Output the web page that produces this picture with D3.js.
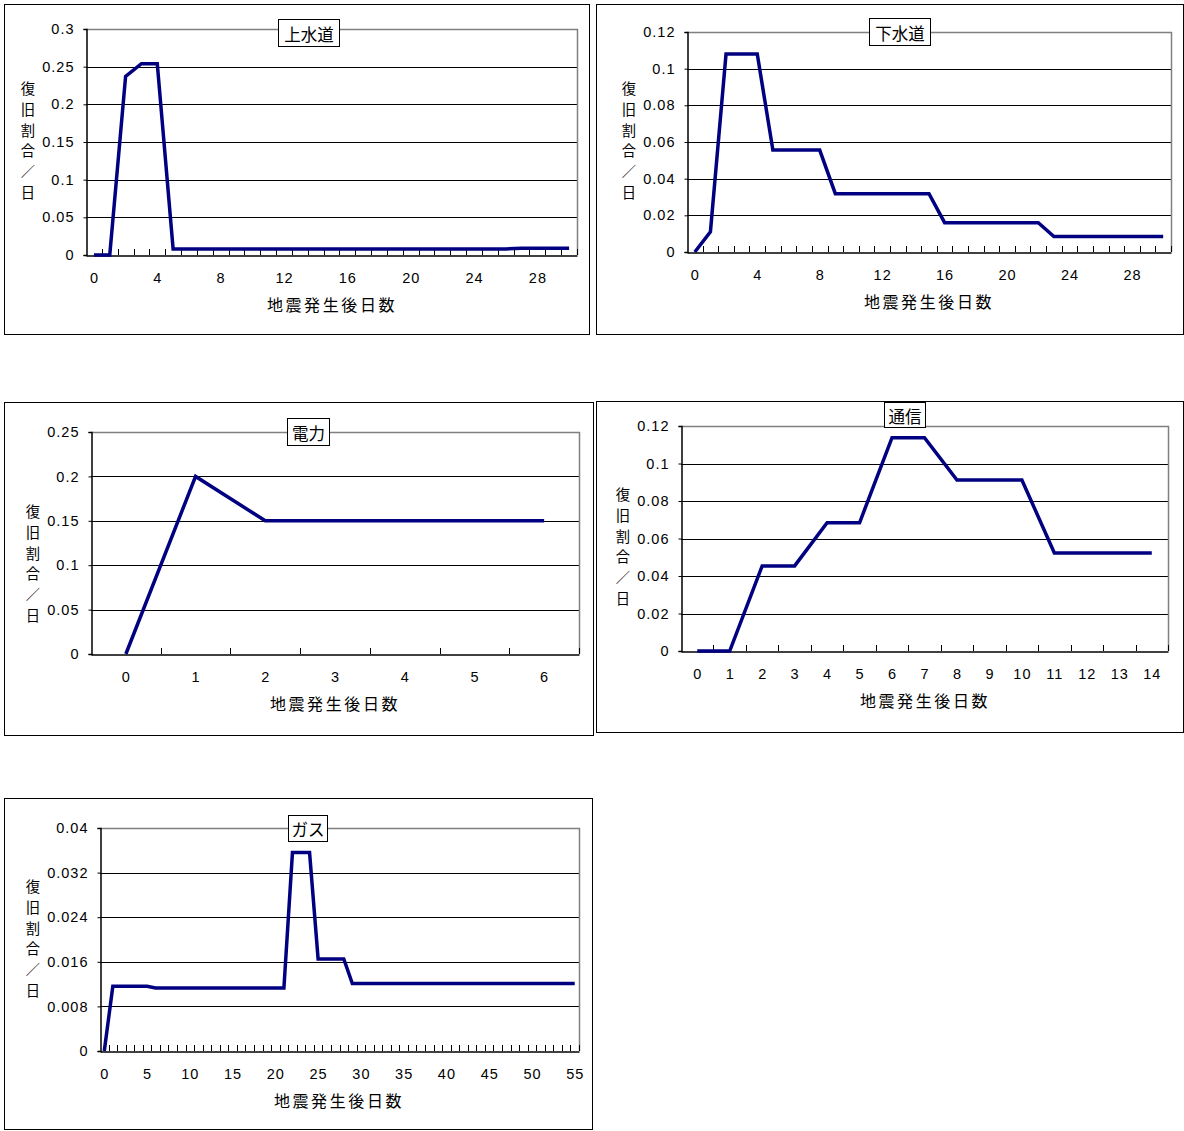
<!DOCTYPE html>
<html>
<head>
<meta charset="utf-8">
<script src="https://cdn.jsdelivr.net/npm/d3@7"></script>
<style>
  body { margin: 0; background: #fff; }
  svg { display: block; }
</style>
</head>
<body>
<div id="chart"></div>
<script>
// Recovery ratio per day, index = days after the earthquake
const josuidoValues = [0, 0, 0.237, 0.254, 0.254, 0.008, 0.008, 0.008, 0.008, 0.008,
  0.008, 0.008, 0.008, 0.008, 0.008, 0.008, 0.008, 0.008, 0.008, 0.008,
  0.008, 0.008, 0.008, 0.008, 0.008, 0.008, 0.008, 0.009, 0.009, 0.009, 0.009];
const gesuidoValues = [0, 0.011, 0.108, 0.108, 0.108, 0.0556, 0.0556, 0.0556, 0.0556, 0.0318,
  0.0318, 0.0318, 0.0318, 0.0318, 0.0318, 0.0318, 0.016, 0.016, 0.016, 0.016,
  0.016, 0.016, 0.016, 0.0084, 0.0084, 0.0084, 0.0084, 0.0084, 0.0084, 0.0084, 0.0084];
const denryokuValues = [0, 0.2, 0.15, 0.15, 0.15, 0.15, 0.15];
const tsushinValues = [0, 0, 0.0454, 0.0454, 0.0684, 0.0684, 0.1138, 0.1138, 0.0912, 0.0912,
  0.0912, 0.0523, 0.0523, 0.0523, 0.0523];
const gasValues = [0, 0.0116, 0.0116, 0.0116, 0.0116, 0.0116, 0.0113, 0.0113, 0.0113, 0.0113,
  0.0113, 0.0113, 0.0113, 0.0113, 0.0113, 0.0113, 0.0113, 0.0113, 0.0113, 0.0113,
  0.0113, 0.0113, 0.0356, 0.0356, 0.0356, 0.0165, 0.0165, 0.0165, 0.0165, 0.0121,
  0.0121, 0.0121, 0.0121, 0.0121, 0.0121, 0.0121, 0.0121, 0.0121, 0.0121, 0.0121,
  0.0121, 0.0121, 0.0121, 0.0121, 0.0121, 0.0121, 0.0121, 0.0121, 0.0121, 0.0121,
  0.0121, 0.0121, 0.0121, 0.0121, 0.0121, 0.0121];

const titles = ['上水道', '下水道', '電力', '通信', 'ガス'];
const yMaxes = [0.3, 0.12, 0.25, 0.12, 0.04];
const ySteps = [0.05, 0.02, 0.05, 0.02, 0.008];
const labelEvery = [4, 4, 1, 1, 5];

const xTitle = '地震発生後日数';
const yTitle = ['復', '旧', '割', '合', '／', '日'];

// layout of each panel (pixels)
const layouts = [
  { frame: [4, 4, 589, 334], plot: [86, 29, 577, 255], tbox: [278, 19, 339, 46], yt: [28, 89], xt: 332 },
  { frame: [596, 4, 1183, 334], plot: [687, 32, 1171, 252], tbox: [869, 18, 930, 45], yt: [629, 89], xt: 929 },
  { frame: [4, 402, 593, 735], plot: [91, 432, 579, 654], tbox: [287, 418, 329, 445], yt: [33, 512], xt: 335 },
  { frame: [596, 401, 1183, 732], plot: [681, 426, 1168, 651], tbox: [884, 402, 925, 427], yt: [623, 495], xt: 925 },
  { frame: [4, 798, 592, 1129], plot: [100, 828, 579, 1051], tbox: [288, 815, 327, 841], yt: [33, 887], xt: 339 }
];

const allValues = [josuidoValues, gesuidoValues, denryokuValues, tsushinValues, gasValues];

const numFont = 'Liberation Sans, Arial, sans-serif';
const jpFont = 'Noto Sans CJK JP, sans-serif';

const svg = d3.select('#chart')
  .append('svg')
  .attr('width', 1184)
  .attr('height', 1131);

allValues.forEach((values, i) => drawPanel(i, values));

function drawPanel(i, values) {
  const L = layouts[i];
  const [pl, pt, pr, pb] = L.plot;
  const g = svg.append('g');

  // outer frame
  g.append('rect')
    .attr('x', L.frame[0] + 0.5).attr('y', L.frame[1] + 0.5)
    .attr('width', L.frame[2] - L.frame[0]).attr('height', L.frame[3] - L.frame[1])
    .attr('fill', 'none').attr('stroke', '#000').attr('stroke-width', 1);

  const days = values.map((d, k) => k);
  const x = d3.scaleBand().domain(days).range([pl, pr]);
  const y = d3.scaleLinear().domain([0, yMaxes[i]]).range([pb, pt]);
  const yTicks = d3.range(0, yMaxes[i] + ySteps[i] / 2, ySteps[i]);

  // gridlines
  g.append('g')
    .selectAll('line')
    .data(yTicks.slice(1, -1))
    .join('line')
    .attr('x1', pl).attr('x2', pr)
    .attr('y1', d => Math.round(y(d)) + 0.5).attr('y2', d => Math.round(y(d)) + 0.5)
    .attr('stroke', '#000').attr('stroke-width', 1);

  // plot border (gray top/right)
  g.append('path')
    .attr('d', `M${pl},${pt + 0.5}H${pr + 0.5}V${pb}`)
    .attr('fill', 'none').attr('stroke', '#808080').attr('stroke-width', 1.5);

  // y axis
  const yAxis = g.append('g')
    .attr('transform', `translate(${pl + 0.5},0)`)
    .call(d3.axisLeft(y).tickValues(yTicks).tickSize(3).tickPadding(9)
      .tickFormat(d => d === 0 ? '0' : String(+d.toFixed(3))));
  yAxis.select('.domain').attr('stroke', '#000').attr('stroke-width', 1.5);
  yAxis.selectAll('text')
    .attr('font-family', numFont).attr('font-size', 14.5)
    .attr('letter-spacing', 1).attr('fill', '#000');

  // x axis: category boundaries as inner ticks
  const xAxis = g.append('g')
    .attr('transform', `translate(0,${pb + 0.5})`)
    .call(d3.axisBottom(x)
      .tickValues(days.filter(d => d % labelEvery[i] === 0))
      .tickSize(0).tickPadding(17));
  xAxis.select('.domain').attr('stroke', '#000').attr('stroke-width', 1.5);
  xAxis.selectAll('text')
    .attr('font-family', numFont).attr('font-size', 14.5)
    .attr('letter-spacing', 1).attr('dx', 0.5).attr('fill', '#000');

  g.append('g')
    .selectAll('line')
    .data(days.slice(1).concat([days.length]))
    .join('line')
    .attr('x1', d => Math.round(pl + d * x.bandwidth()) + 0.5)
    .attr('x2', d => Math.round(pl + d * x.bandwidth()) + 0.5)
    .attr('y1', pb).attr('y2', pb - 6)
    .attr('stroke', '#000').attr('stroke-width', 1);

  // data line
  const line = d3.line()
    .x((d, k) => x(k) + x.bandwidth() / 2)
    .y(d => y(d));
  g.append('path')
    .datum(values)
    .attr('d', line)
    .attr('fill', 'none')
    .attr('stroke', '#000080')
    .attr('stroke-width', 3.5)
    .attr('stroke-linejoin', 'miter');

  // title box
  const tb = L.tbox;
  g.append('rect')
    .attr('x', tb[0] + 0.5).attr('y', tb[1] + 0.5)
    .attr('width', tb[2] - tb[0]).attr('height', tb[3] - tb[1])
    .attr('fill', '#fff').attr('stroke', '#000');
  g.append('text')
    .attr('x', (tb[0] + tb[2]) / 2 + 0.5).attr('y', (tb[1] + tb[3]) / 2 + 1)
    .attr('text-anchor', 'middle').attr('dominant-baseline', 'central')
    .attr('font-family', jpFont).attr('font-size', 16.5)
    .text(titles[i]);

  // vertical y title, one text with a tspan per character
  g.append('text')
    .attr('text-anchor', 'middle')
    .attr('font-family', jpFont).attr('font-size', 14.3)
    .selectAll('tspan')
    .data(yTitle)
    .join('tspan')
    .attr('x', L.yt[0]).attr('y', (d, k) => L.yt[1] + 5 + k * 20.8)
    .text(d => d);

  // x title
  g.append('text')
    .attr('x', L.xt).attr('y', pb + 49)
    .attr('text-anchor', 'middle').attr('dominant-baseline', 'central')
    .attr('font-family', jpFont).attr('font-size', 16)
    .attr('letter-spacing', 2.6)
    .text(xTitle);
}
</script>
</body>
</html>
